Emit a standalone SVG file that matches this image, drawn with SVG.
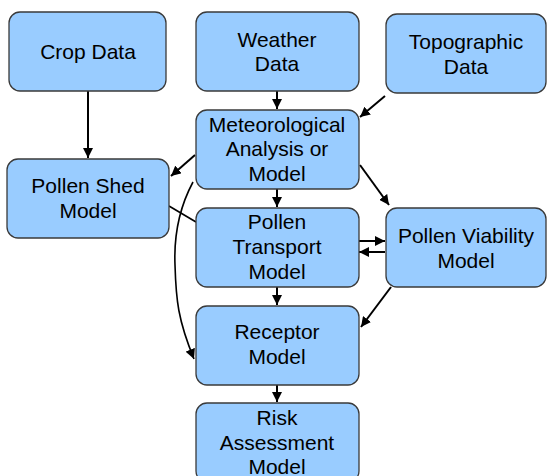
<svg xmlns="http://www.w3.org/2000/svg" width="547" height="476" viewBox="0 0 547 476">
<defs>
<marker id="ah" markerUnits="userSpaceOnUse" markerWidth="12" markerHeight="10" refX="10" refY="5" orient="auto">
<path d="M0,0 L10,5 L0,10 Z" fill="#000"/>
</marker>
<style>
.box{fill:#99ccff;stroke:#3a3a3a;stroke-width:1.3}
.t{font-family:"Liberation Sans",Arial,sans-serif;font-size:21px;fill:#000;text-anchor:middle}
.c{fill:none;stroke:#000;stroke-width:2}
.a{marker-end:url(#ah)}
</style>
</defs>
<rect width="547" height="476" fill="#fff"/>
<g id="connectors">
<line class="c a" x1="88" y1="91" x2="88" y2="158"/>
<line class="c a" x1="277" y1="91" x2="277" y2="109"/>
<line class="c a" x1="385" y1="96" x2="360" y2="117"/>
<line class="c a" x1="195" y1="155" x2="171" y2="176"/>
<line class="c a" x1="277" y1="189" x2="277" y2="207"/>
<line class="c a" x1="360" y1="165" x2="389" y2="205"/>
<line class="c a" x1="359" y1="241" x2="385" y2="241"/>
<line class="c a" x1="385" y1="252" x2="359" y2="252"/>
<line class="c" x1="169" y1="206" x2="196" y2="222" style="stroke-width:1.6"/>
<path class="c a" d="M193,182 C178,210 174,240 175,265 C176,300 178,320 194,359" style="stroke-width:1.6"/>
<line class="c a" x1="277" y1="287" x2="277" y2="305"/>
<line class="c a" x1="391" y1="287" x2="361" y2="327"/>
<line class="c a" x1="277" y1="385" x2="277" y2="402"/>
</g>
<g id="crop"><rect class="box" x="9" y="12" width="157" height="79" rx="11"/><text class="t" x="88" y="59">Crop Data</text></g>
<g id="weather"><rect class="box" x="196" y="12" width="163" height="79" rx="11"/><text class="t" x="277" y="47">Weather</text><text class="t" x="277" y="71">Data</text></g>
<g id="topographic"><rect class="box" x="386" y="14" width="160" height="79" rx="11"/><text class="t" x="466" y="49">Topographic</text><text class="t" x="466" y="74">Data</text></g>
<g id="meteorological"><rect class="box" x="196" y="110" width="163" height="79" rx="11"/><text class="t" x="277" y="132">Meteorological</text><text class="t" x="277" y="156">Analysis or</text><text class="t" x="277" y="181">Model</text></g>
<g id="pollenshed"><rect class="box" x="7" y="159" width="162" height="79" rx="11"/><text class="t" x="88" y="193">Pollen Shed</text><text class="t" x="88" y="218">Model</text></g>
<g id="transport"><rect class="box" x="196" y="208" width="163" height="79" rx="11"/><text class="t" x="277" y="229">Pollen</text><text class="t" x="277" y="254">Transport</text><text class="t" x="277" y="279">Model</text></g>
<g id="viability"><rect class="box" x="386" y="208" width="160" height="79" rx="11"/><text class="t" x="466" y="243">Pollen Viability</text><text class="t" x="466" y="268">Model</text></g>
<g id="receptor"><rect class="box" x="196" y="306" width="163" height="79" rx="11"/><text class="t" x="277" y="339">Receptor</text><text class="t" x="277" y="364">Model</text></g>
<g id="risk"><rect class="box" x="196" y="403" width="163" height="79" rx="11"/><text class="t" x="277" y="425">Risk</text><text class="t" x="277" y="450">Assessment</text><text class="t" x="277" y="474">Model</text></g>
</svg>
